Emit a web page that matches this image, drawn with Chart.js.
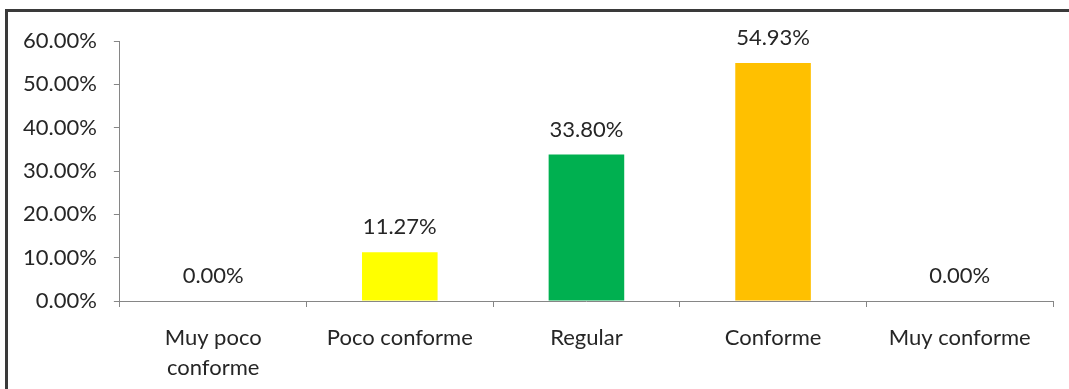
<!DOCTYPE html>
<html>
<head>
<meta charset="utf-8">
<script src="https://cdn.jsdelivr.net/npm/chart.js@4"></script>
<style>
  html, body { margin: 0; padding: 0; background: #fff; }
  #wrap { position: relative; width: 1069px; height: 389px; overflow: hidden; }
  #frame {
    position: absolute; left: 5px; top: 9px; width: 1100px; height: 420px;
    border-left: 3px solid #3a3a3a; border-top: 3px solid #3a3a3a;
    box-sizing: border-box;
  }
  canvas { position: absolute; left: 0; top: 0; }
</style>
</head>
<body>
<div id="wrap">
  <div id="frame"></div>
  <canvas id="chart" width="1069" height="389"></canvas>
</div>
<script>
// datos
const categorias = [['Muy poco', 'conforme'], 'Poco conforme', 'Regular', 'Conforme', 'Muy conforme'];
const porcentajes = [0.00, 11.27, 33.80, 54.93, 0.00];
const colores = ['#4f81bd', '#ffff00', '#00b050', '#ffc000', '#4f81bd'];
const ticksY = [0, 10, 20, 30, 40, 50, 60];

const FUENTE = 'Lato, "Open Sans", sans-serif';
const TAM = 22;

// etiqueta con el valor encima de cada barra
const etiquetas = {
    id: 'etiquetas',
    afterDatasetsDraw(chart) {
        const ctx = chart.ctx;
        const meta = chart.getDatasetMeta(0);
        ctx.save();
        ctx.font = TAM + 'px ' + FUENTE;
        ctx.fillStyle = '#262626';
        ctx.textAlign = 'center';
        ctx.textBaseline = 'middle';
        meta.data.forEach((bar, i) => {
            ctx.fillText(porcentajes[i].toFixed(2) + '%', bar.x, bar.y - 25);
        });
        ctx.restore();
    }
};

new Chart(document.getElementById('chart'), {
    type: 'bar',
    data: {
        labels: categorias,
        datasets: [{
            data: porcentajes,
            backgroundColor: colores,
            categoryPercentage: 0.405,
            barPercentage: 1.0
        }]
    },
    options: {
        responsive: false,
        animation: false,
        layout: { padding: { top: 41, right: 16, left: 6, bottom: 0 } },
        plugins: { legend: { display: false }, tooltip: { enabled: false } },
        scales: {
            x: {
                // alto fijo del eje para que el área quede en el mismo sitio
                afterFit: s => { s.height = 88; },
                grid: { drawOnChartArea: false, drawTicks: true, tickLength: 6, color: '#868686' },
                border: { color: '#868686' },
                ticks: {
                    color: '#262626', font: { size: TAM, family: FUENTE, lineHeight: 1.36 },
                    maxRotation: 0, autoSkip: false, padding: 16
                }
            },
            y: {
                min: 0, max: 60,
                afterBuildTicks: axis => { axis.ticks = ticksY.map(v => ({ value: v })); },
                grid: { drawOnChartArea: false, drawTicks: true, tickLength: 6, color: '#868686' },
                border: { color: '#868686' },
                ticks: {
                    color: '#262626', font: { size: TAM, family: FUENTE }, padding: 17,
                    callback: v => v.toFixed(2) + '%'
                }
            }
        }
    },
    plugins: [etiquetas]
});
</script>
</body>
</html>
